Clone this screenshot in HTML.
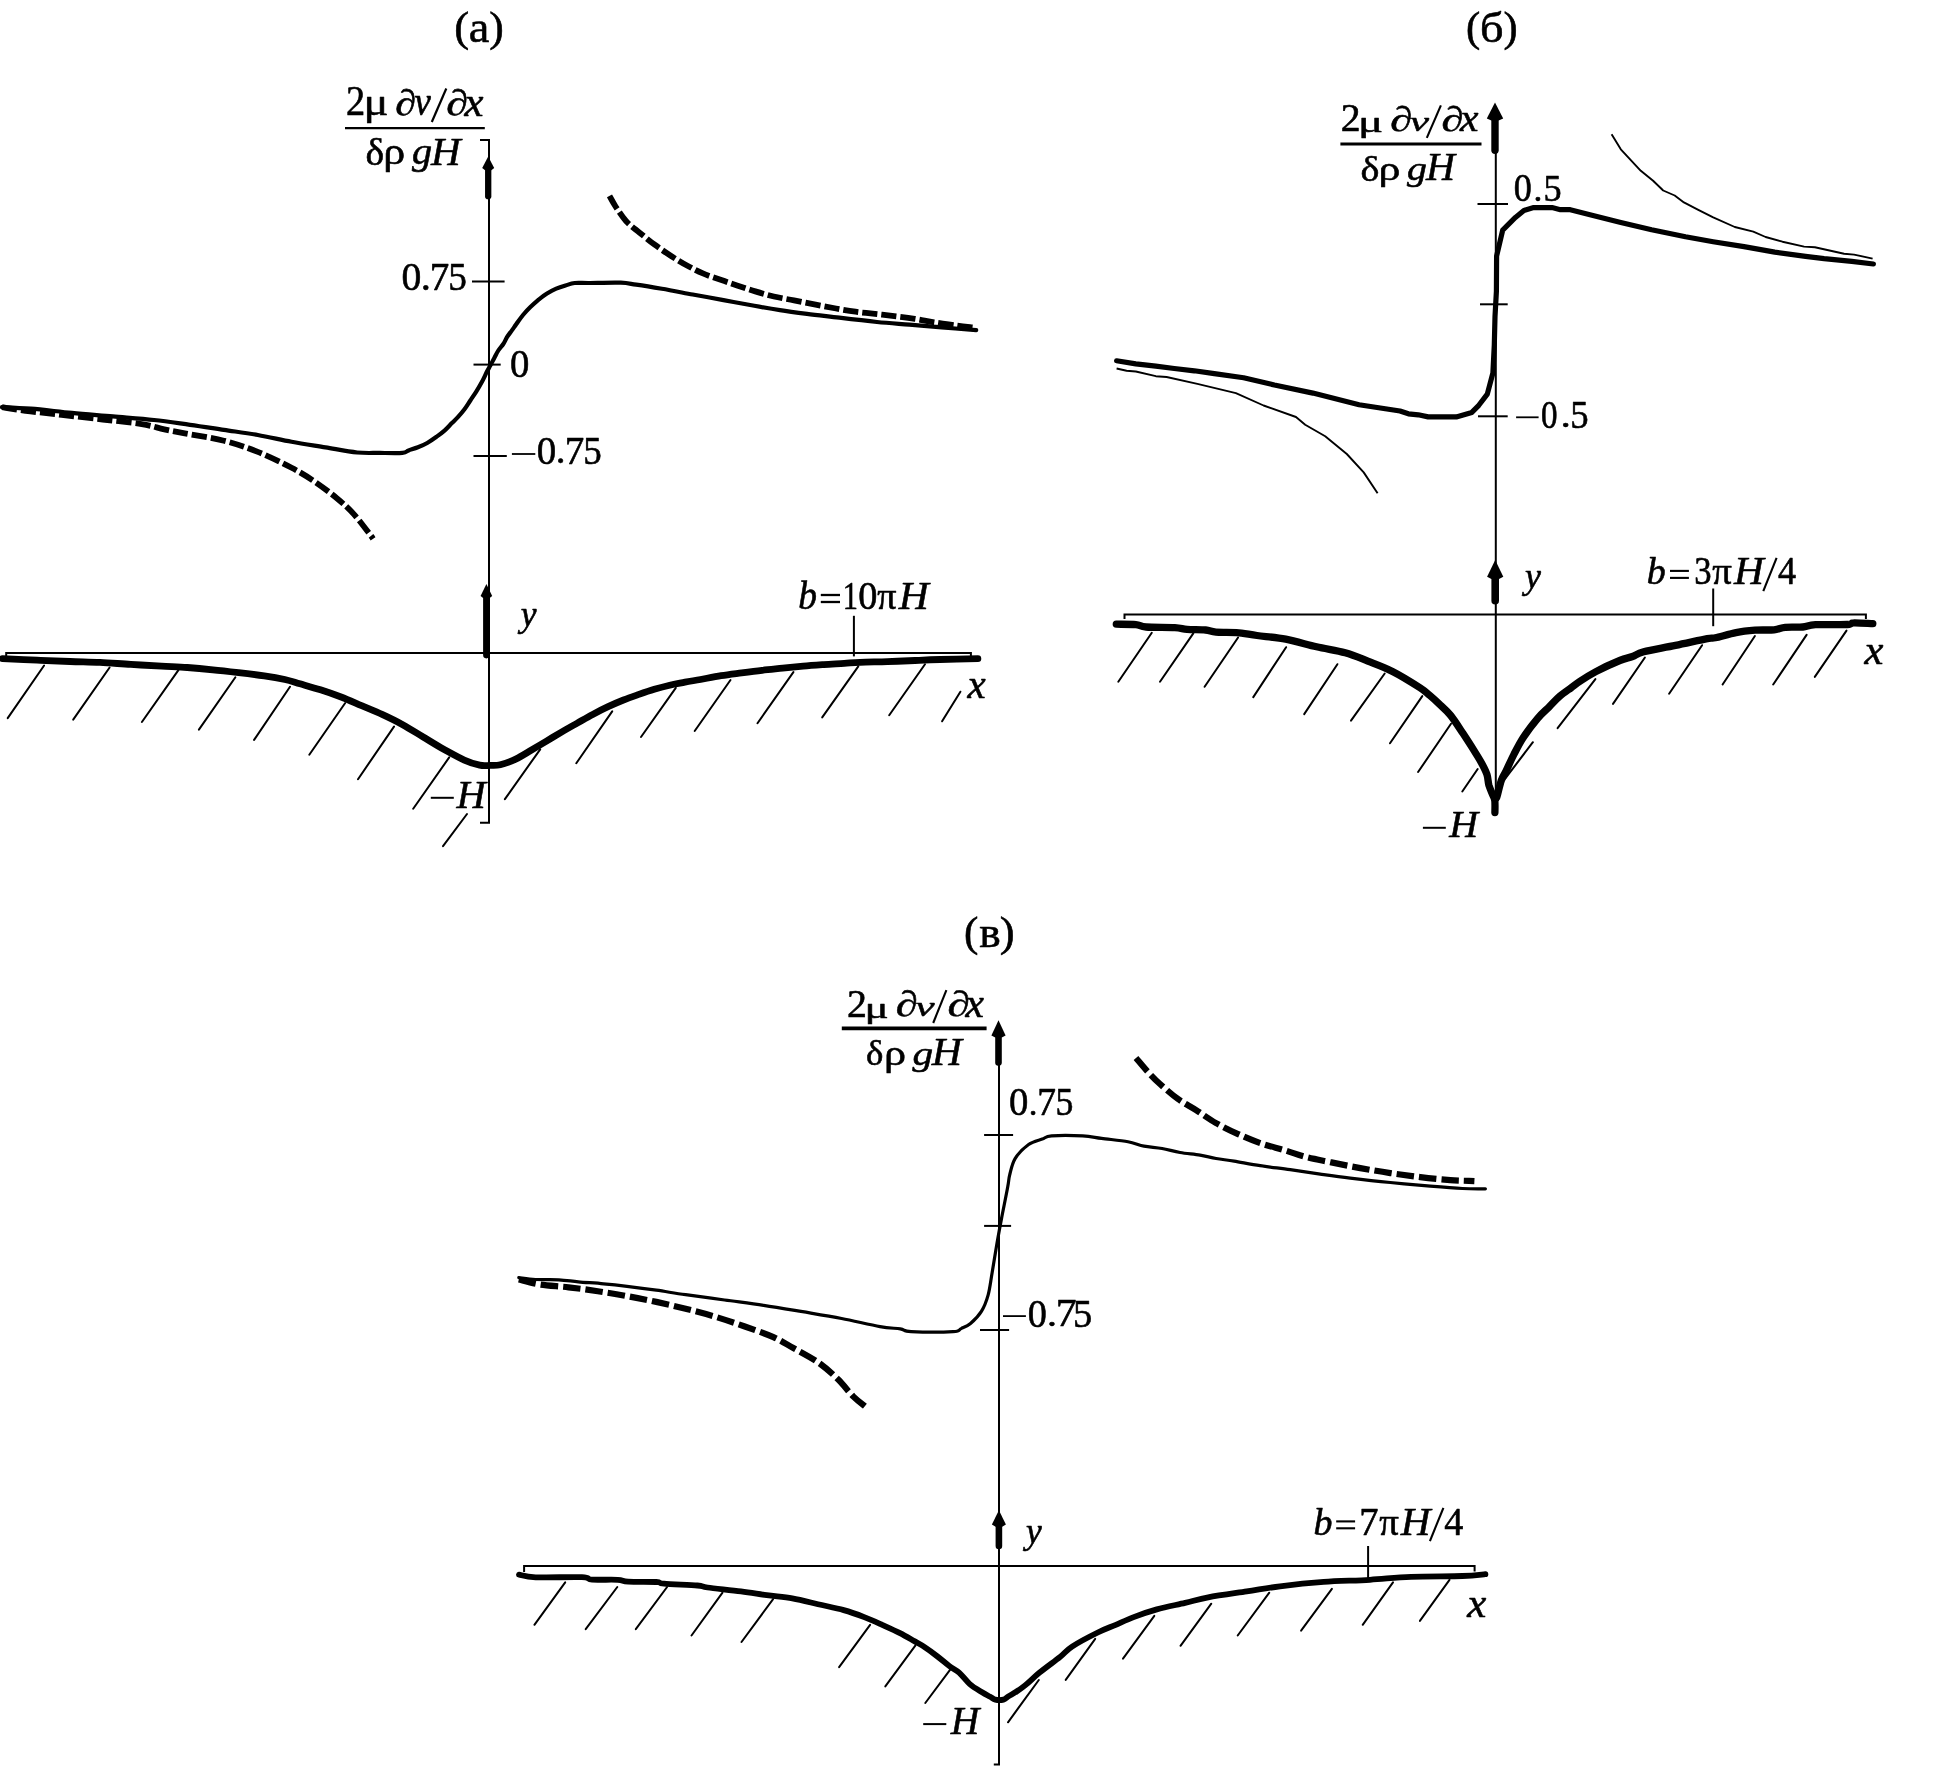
<!DOCTYPE html>
<html><head><meta charset="utf-8"><style>
html,body{margin:0;padding:0;background:#fff;}
svg{display:block;filter:grayscale(1);}
text{font-family:"Liberation Serif", serif;fill:#000;font-kerning:none;stroke:#000;stroke-width:0.6px;vector-effect:non-scaling-stroke;stroke-linejoin:round;}
</style></head><body>
<svg width="1948" height="1776" viewBox="0 0 1948 1776">
<rect width="1948" height="1776" fill="#fff"/>
<polyline points="480.0,140.0 489.0,140.0 489.0,822.8 480.0,822.8" fill="none" stroke="#000" stroke-width="2"/>
<line x1="472.0" y1="281.6" x2="504.6" y2="281.6" stroke="#000" stroke-width="2" stroke-linecap="butt"/>
<line x1="473.5" y1="364.6" x2="500.7" y2="364.6" stroke="#000" stroke-width="2" stroke-linecap="butt"/>
<line x1="473.5" y1="456.0" x2="506.8" y2="456.0" stroke="#000" stroke-width="2" stroke-linecap="butt"/>
<path d="M488.2 156.6 L494.2 168.0 L491.3 170.2 L485.1 170.2 L482.2 168.0 Z" fill="#000"/>
<line x1="488.2" y1="167.0" x2="488.2" y2="196.2" stroke="#000" stroke-width="6.3" stroke-linecap="round"/>
<path d="M486.4 584.0 L492.2 595.9 L489.7 598.1 L483.1 598.1 L480.6 595.9 Z" fill="#000"/>
<line x1="486.4" y1="594.9" x2="486.4" y2="655.1" stroke="#000" stroke-width="6.6" stroke-linecap="round"/>
<polyline points="6.2,656.5 6.2,653.0 970.9,653.0 970.9,656.5" fill="none" stroke="#000" stroke-width="2"/>
<line x1="853.9" y1="615.8" x2="853.9" y2="656.4" stroke="#000" stroke-width="2" stroke-linecap="butt"/>
<path d="M2.0 407.2 C6.8 407.4 19.1 407.8 30.8 408.7 C42.5 409.6 58.2 411.6 71.9 412.9 C85.6 414.2 99.2 415.2 112.9 416.4 C126.6 417.6 141.2 418.6 154.0 420.0 C166.8 421.4 178.3 423.2 190.0 424.8 C201.7 426.4 212.6 428.2 223.9 429.9 C235.2 431.6 246.5 433.0 257.8 435.0 C269.1 437.0 280.3 439.7 291.6 441.8 C302.9 443.9 314.6 445.6 325.5 447.4 C336.4 449.2 348.0 451.6 357.1 452.5 C366.2 453.4 372.4 452.8 380.0 452.9 C387.6 453.0 397.6 453.3 402.4 452.9 C407.2 452.5 406.0 451.3 408.6 450.4 C411.2 449.5 414.8 448.5 417.9 447.3 C421.0 446.1 424.1 444.8 427.2 443.0 C430.3 441.2 433.6 438.9 436.5 436.8 C439.4 434.7 441.9 432.9 444.5 430.6 C447.1 428.3 449.6 425.4 451.9 423.1 C454.2 420.8 456.0 419.2 458.1 416.9 C460.2 414.6 462.2 412.3 464.3 409.5 C466.4 406.7 468.4 403.3 470.5 400.2 C472.6 397.1 474.8 393.9 476.7 390.9 C478.6 387.9 480.0 385.4 481.7 382.3 C483.4 379.2 485.2 375.1 486.6 372.3 C488.0 369.5 489.0 368.0 490.3 365.6 C491.6 363.2 492.9 360.6 494.2 358.2 C495.5 355.8 496.5 353.4 498.0 351.0 C499.5 348.6 501.8 346.3 503.3 344.0 C504.8 341.7 505.6 339.5 507.0 337.2 C508.4 334.9 510.4 332.5 511.9 330.4 C513.4 328.2 514.4 326.9 516.2 324.3 C518.1 321.7 520.6 317.9 523.0 315.0 C525.4 312.1 527.9 309.4 530.4 307.0 C532.9 304.6 535.0 302.6 537.8 300.3 C540.6 298.1 543.9 295.4 547.0 293.5 C550.1 291.6 553.1 289.9 556.2 288.6 C559.3 287.3 562.4 286.4 565.5 285.5 C568.6 284.6 570.6 283.4 574.7 283.0 C578.8 282.6 582.3 283.1 590.0 283.0 C597.7 282.9 613.1 282.4 620.8 282.7 C628.5 283.0 629.4 283.7 636.2 284.7 C643.1 285.7 652.5 287.2 661.9 288.8 C671.3 290.4 682.4 292.6 692.7 294.5 C703.0 296.4 713.2 298.2 723.5 300.1 C733.8 302.0 744.9 304.1 754.3 305.8 C763.7 307.5 771.2 308.8 780.0 310.1 C788.8 311.5 797.1 312.6 807.0 313.9 C816.9 315.2 827.6 316.3 839.3 317.7 C851.0 319.1 865.3 320.8 877.0 322.0 C888.7 323.2 898.6 323.8 909.4 324.7 C920.2 325.6 930.6 326.5 941.7 327.4 C952.8 328.3 970.5 329.7 976.2 330.1" fill="none" stroke="#000" stroke-width="4.2" stroke-linecap="round" stroke-linejoin="round"/>
<path d="M609.5 195.9 C610.5 197.7 613.0 202.5 615.7 206.7 C618.5 210.9 622.1 216.7 626.0 221.0 C629.9 225.3 634.5 228.5 639.3 232.4 C644.1 236.3 649.4 240.8 654.7 244.7 C660.0 248.6 665.8 252.6 671.1 256.0 C676.4 259.4 681.2 262.3 686.5 265.2 C691.8 268.1 697.1 270.9 702.9 273.4 C708.7 275.9 715.6 278.1 721.4 280.1 C727.2 282.2 732.1 283.8 737.8 285.7 C743.4 287.6 749.3 289.6 755.3 291.4 C761.3 293.2 767.3 295.0 773.8 296.5 C780.2 298.0 787.0 299.0 794.0 300.4 C801.0 301.8 808.6 303.3 815.6 304.7 C822.6 306.1 829.4 307.3 836.0 308.5 C842.6 309.7 849.0 310.8 855.5 311.7 C862.0 312.6 868.4 313.2 874.9 313.9 C881.4 314.6 887.6 315.3 894.3 316.1 C900.9 316.9 908.1 317.8 914.8 318.8 C921.4 319.8 927.2 321.2 934.2 322.3 C941.2 323.4 950.3 324.8 956.8 325.6 C963.3 326.5 970.3 327.1 973.0 327.4" fill="none" stroke="#000" stroke-width="5.8" stroke-linecap="butt" stroke-linejoin="round" stroke-dasharray="15.2 4"/>
<path d="M2.0 407.2 C5.9 407.8 15.8 409.5 25.7 410.8 C35.6 412.1 48.8 413.4 61.6 414.9 C74.4 416.3 89.4 418.0 102.7 419.5 C116.0 421.0 131.4 422.5 141.7 424.1 C152.0 425.7 157.1 427.8 164.3 429.3 C171.5 430.9 174.9 431.5 184.8 433.4 C194.7 435.3 211.7 437.6 223.9 440.7 C236.1 443.8 246.5 447.4 257.8 451.9 C269.1 456.4 282.2 462.9 291.6 467.8 C301.0 472.7 306.7 476.2 314.2 481.3 C321.7 486.4 330.2 492.7 336.8 498.2 C343.4 503.7 348.2 507.9 353.8 514.1 C359.4 520.3 367.5 531.4 370.7 535.5 C373.9 539.6 372.6 538.3 373.0 538.9" fill="none" stroke="#000" stroke-width="5.8" stroke-linecap="butt" stroke-linejoin="round" stroke-dasharray="15.2 4"/>
<path d="M2.5 658.7 C8.2 659.0 25.8 659.7 37.0 660.2 C48.2 660.7 59.5 661.1 70.0 661.5 C80.5 661.9 89.9 661.9 100.0 662.4 C110.1 662.9 120.5 663.8 130.8 664.4 C141.1 665.0 152.2 665.7 161.6 666.2 C171.0 666.7 178.8 666.9 187.3 667.5 C195.9 668.1 204.4 668.9 212.9 669.8 C221.4 670.6 230.0 671.6 238.6 672.6 C247.2 673.6 256.6 674.8 264.3 675.9 C272.0 677.0 278.9 678.2 284.8 679.5 C290.8 680.8 294.1 682.1 300.0 683.8 C305.9 685.5 313.6 687.6 320.5 689.8 C327.4 692.0 334.2 694.4 341.1 697.0 C348.0 699.6 354.8 702.8 361.6 705.7 C368.4 708.6 375.2 711.2 382.1 714.4 C389.0 717.6 395.9 720.9 402.7 724.7 C409.5 728.5 416.4 732.9 423.2 737.0 C430.0 741.1 436.8 745.4 443.7 749.3 C450.6 753.1 458.3 757.5 464.3 760.1 C470.3 762.8 475.4 764.3 479.7 765.2 C484.0 766.1 486.6 765.5 490.0 765.4 C493.4 765.3 496.0 765.8 500.3 764.7 C504.6 763.7 510.6 761.5 515.7 759.1 C520.8 756.7 526.0 753.3 531.1 750.3 C536.2 747.3 541.4 744.2 546.5 741.1 C551.6 738.0 556.8 734.9 561.9 731.9 C567.0 728.9 572.2 726.0 577.3 723.1 C582.4 720.2 587.6 717.1 592.7 714.4 C597.8 711.7 603.0 709.1 608.1 706.7 C613.2 704.3 618.4 702.0 623.5 700.0 C628.6 698.0 633.8 696.2 638.9 694.4 C644.0 692.6 649.2 690.8 654.3 689.3 C659.4 687.8 664.6 686.4 669.7 685.2 C674.8 684.0 679.9 683.2 685.0 682.2 C690.1 681.2 694.5 680.6 700.5 679.5 C706.5 678.4 714.2 676.8 721.1 675.7 C728.0 674.6 734.8 673.8 741.6 672.9 C748.4 672.0 755.2 671.1 762.1 670.3 C769.0 669.5 775.9 668.9 782.7 668.2 C789.6 667.5 796.4 666.8 803.2 666.2 C810.0 665.6 816.9 665.1 823.7 664.6 C830.6 664.1 838.2 663.8 844.3 663.4 C850.3 663.0 852.8 662.6 860.0 662.3 C867.2 662.0 878.1 661.9 887.3 661.6 C896.5 661.3 906.2 660.9 915.0 660.5 C923.8 660.1 929.5 659.8 940.0 659.5 C950.5 659.2 971.6 658.8 977.9 658.7" fill="none" stroke="#000" stroke-width="6.8" stroke-linecap="round" stroke-linejoin="round"/>
<line x1="7.7" y1="718.1" x2="44.1" y2="665.5" stroke="#000" stroke-width="2" stroke-linecap="round"/>
<line x1="73.2" y1="719.6" x2="109.6" y2="667.5" stroke="#000" stroke-width="2" stroke-linecap="round"/>
<line x1="141.9" y1="722.0" x2="178.4" y2="670.1" stroke="#000" stroke-width="2" stroke-linecap="round"/>
<line x1="198.9" y1="729.6" x2="235.4" y2="677.3" stroke="#000" stroke-width="2" stroke-linecap="round"/>
<line x1="254.1" y1="739.9" x2="290.0" y2="686.8" stroke="#000" stroke-width="2" stroke-linecap="round"/>
<line x1="309.3" y1="754.8" x2="345.2" y2="703.0" stroke="#000" stroke-width="2" stroke-linecap="round"/>
<line x1="358.0" y1="779.2" x2="394.0" y2="726.6" stroke="#000" stroke-width="2" stroke-linecap="round"/>
<line x1="413.2" y1="808.7" x2="449.2" y2="757.4" stroke="#000" stroke-width="2" stroke-linecap="round"/>
<line x1="443.0" y1="846.1" x2="467.0" y2="814.0" stroke="#000" stroke-width="2" stroke-linecap="round"/>
<line x1="504.9" y1="799.1" x2="540.2" y2="749.3" stroke="#000" stroke-width="2" stroke-linecap="round"/>
<line x1="576.3" y1="763.2" x2="612.2" y2="711.4" stroke="#000" stroke-width="2" stroke-linecap="round"/>
<line x1="641.0" y1="737.0" x2="675.8" y2="687.8" stroke="#000" stroke-width="2" stroke-linecap="round"/>
<line x1="694.7" y1="731.0" x2="730.5" y2="680.0" stroke="#000" stroke-width="2" stroke-linecap="round"/>
<line x1="757.5" y1="723.2" x2="793.4" y2="672.1" stroke="#000" stroke-width="2" stroke-linecap="round"/>
<line x1="822.2" y1="717.4" x2="858.3" y2="666.3" stroke="#000" stroke-width="2" stroke-linecap="round"/>
<line x1="889.2" y1="715.3" x2="925.0" y2="664.2" stroke="#000" stroke-width="2" stroke-linecap="round"/>
<line x1="942.1" y1="721.3" x2="960.4" y2="691.7" stroke="#000" stroke-width="2" stroke-linecap="round"/>
<text transform="matrix(0.4478 0 0 0.4158 454.13 41.05)" font-size="100">(</text>
<text transform="matrix(0.4633 0 0 0.4509 468.87 42.46)" font-size="100">a</text>
<text transform="matrix(0.4361 0 0 0.4158 489.19 41.05)" font-size="100">)</text>
<text transform="matrix(0.3842 0 0 0.4123 346.01 115.40)" font-size="100">2</text>
<text transform="matrix(0.4661 0 0 0.3716 363.52 114.75)" font-size="100">μ</text>
<text transform="matrix(0.4215 0 0 0.3622 395.20 115.32)" font-size="100">∂</text>
<text transform="matrix(0.3673 0 0 0.3947 414.60 115.41)" font-size="100" font-style="italic">v</text>
<line x1="431.8" y1="122.0" x2="446.3" y2="88.5" stroke="#000" stroke-width="2.2" stroke-linecap="butt"/>
<text transform="matrix(0.4406 0 0 0.3622 446.34 115.32)" font-size="100">∂</text>
<text transform="matrix(0.4279 0 0 0.3987 464.52 115.60)" font-size="100" font-style="italic">x</text>
<line x1="345.0" y1="128.1" x2="484.8" y2="128.1" stroke="#000" stroke-width="2.2" stroke-linecap="butt"/>
<text transform="matrix(0.3965 0 0 0.3811 365.51 164.73)" font-size="100">δ</text>
<text transform="matrix(0.4390 0 0 0.3724 383.37 163.67)" font-size="100">ρ</text>
<text transform="matrix(0.4019 0 0 0.3716 411.98 163.69)" font-size="100" font-style="italic">g</text>
<text transform="matrix(0.4101 0 0 0.4062 430.94 164.70)" font-size="100" font-style="italic">H</text>
<text transform="matrix(0.3964 0 0 0.4060 401.59 289.90)" font-size="100">0</text>
<text transform="matrix(0.4062 0 0 0.4062 420.82 289.92)" font-size="100">.</text>
<text transform="matrix(0.3899 0 0 0.4032 429.73 290.00)" font-size="100">7</text>
<text transform="matrix(0.3724 0 0 0.4048 448.14 290.10)" font-size="100">5</text>
<text transform="matrix(0.3869 0 0 0.4016 509.93 377.21)" font-size="100">0</text>
<line x1="511.9" y1="454.0" x2="535.3" y2="454.0" stroke="#000" stroke-width="1.8" stroke-linecap="butt"/>
<text transform="matrix(0.3893 0 0 0.4031 536.82 463.51)" font-size="100">0</text>
<text transform="matrix(0.3893 0 0 0.3724 555.83 463.37)" font-size="100">.</text>
<text transform="matrix(0.3899 0 0 0.4047 564.63 463.60)" font-size="100">7</text>
<text transform="matrix(0.3699 0 0 0.4033 583.15 463.51)" font-size="100">5</text>
<text transform="matrix(0.3543 0 0 0.3675 520.66 626.07)" font-size="100" font-style="italic">y</text>
<text transform="matrix(0.3745 0 0 0.3908 798.21 608.52)" font-size="100" font-style="italic">b</text>
<line x1="820.8" y1="595.0" x2="840.0" y2="595.0" stroke="#000" stroke-width="2.3" stroke-linecap="butt"/>
<line x1="820.8" y1="602.0" x2="840.0" y2="602.0" stroke="#000" stroke-width="2.3" stroke-linecap="butt"/>
<text transform="matrix(0.3039 0 0 0.4105 842.73 608.50)" font-size="100">1</text>
<text transform="matrix(0.3822 0 0 0.4075 858.24 608.50)" font-size="100">0</text>
<text transform="matrix(0.3802 0 0 0.3776 877.28 608.53)" font-size="100">π</text>
<text transform="matrix(0.4153 0 0 0.4062 898.65 608.50)" font-size="100" font-style="italic">H</text>
<text transform="matrix(0.4100 0 0 0.3987 967.40 698.30)" font-size="100" font-style="italic">x</text>
<line x1="430.8" y1="797.8" x2="453.8" y2="797.8" stroke="#000" stroke-width="2" stroke-linecap="butt"/>
<text transform="matrix(0.4050 0 0 0.4032 456.54 807.60)" font-size="100" font-style="italic">H</text>
<line x1="1495.8" y1="118.0" x2="1495.8" y2="813.0" stroke="#000" stroke-width="2" stroke-linecap="butt"/>
<line x1="1477.5" y1="204.0" x2="1508.0" y2="204.0" stroke="#000" stroke-width="2" stroke-linecap="butt"/>
<line x1="1480.0" y1="304.3" x2="1507.7" y2="304.3" stroke="#000" stroke-width="2" stroke-linecap="butt"/>
<line x1="1478.0" y1="416.3" x2="1507.7" y2="416.3" stroke="#000" stroke-width="2" stroke-linecap="butt"/>
<path d="M1495.0 102.4 L1503.2 118.4 L1498.7 120.6 L1491.3 120.6 L1486.8 118.4 Z" fill="#000"/>
<line x1="1495.0" y1="117.4" x2="1495.0" y2="150.3" stroke="#000" stroke-width="7.4" stroke-linecap="round"/>
<path d="M1495.2 560.1 L1503.3 576.7 L1499.0 578.9 L1491.4 578.9 L1487.1 576.7 Z" fill="#000"/>
<line x1="1495.2" y1="575.7" x2="1495.2" y2="600.8" stroke="#000" stroke-width="7.6" stroke-linecap="round"/>
<polyline points="1124.5,619.0 1124.5,614.6 1865.9,614.6 1865.9,619.0" fill="none" stroke="#000" stroke-width="2"/>
<line x1="1713.2" y1="588.5" x2="1713.2" y2="626.2" stroke="#000" stroke-width="2" stroke-linecap="butt"/>
<path d="M1116.6 360.8 L1135.8 363.9 L1155.8 366.2 L1174.3 368.5 L1194.3 370.8 L1214.3 373.6 L1243.6 377.7 L1274.4 385.0 L1312.9 393.1 L1359.1 404.7 L1400.0 411.0 L1408.4 413.8 L1418.3 414.8 L1428.1 416.9 L1456.3 416.9 L1471.8 412.4 L1478.8 405.3 L1487.3 394.1 L1492.9 373.0 L1494.3 344.8 L1495.0 316.7 L1496.4 291.3 L1496.6 256.1 L1502.7 230.1 L1515.4 217.4 L1523.9 210.4 L1533.7 207.6 L1552.0 207.6 L1560.4 209.7 L1570.3 209.7 L1590.0 214.7 L1620.8 222.4 L1651.6 229.7 L1685.5 236.7 L1713.2 241.7 L1744.0 246.6 L1774.8 252.1 L1805.6 256.3 L1824.1 258.6 L1851.8 261.4 L1873.4 264.0" fill="none" stroke="#000" stroke-width="5.2" stroke-linecap="round" stroke-linejoin="round"/>
<path d="M1611.6 134.2 L1620.8 149.3 L1640.8 170.8 L1653.1 180.8 L1663.2 190.5 L1674.7 195.5 L1683.9 202.4 L1697.8 209.6 L1713.2 217.3 L1734.8 227.0 L1753.3 231.7 L1765.6 237.0 L1782.5 241.7 L1804.1 246.6 L1814.9 247.2 L1844.1 253.7 L1854.1 254.6 L1872.6 258.6" fill="none" stroke="#000" stroke-width="1.9" stroke-linecap="butt" stroke-linejoin="round"/>
<path d="M1116.6 368.5 L1126.6 370.8 L1135.8 371.5 L1155.8 376.2 L1166.6 377.0 L1197.4 383.9 L1235.9 393.1 L1263.6 405.5 L1296.0 417.0 L1305.2 424.7 L1325.2 436.3 L1346.8 454.0 L1363.7 472.4 L1377.6 493.2" fill="none" stroke="#000" stroke-width="1.9" stroke-linecap="butt" stroke-linejoin="round"/>
<path d="M1116.3 624.2 C1119.5 624.3 1130.8 624.1 1135.8 624.6 C1140.8 625.1 1139.6 626.5 1146.1 627.0 C1152.6 627.5 1168.0 627.2 1174.8 627.6 C1181.6 628.0 1182.0 629.0 1187.1 629.4 C1192.2 629.8 1200.8 629.5 1205.6 630.0 C1210.4 630.5 1210.8 631.8 1215.9 632.2 C1221.0 632.6 1229.6 632.1 1236.4 632.6 C1243.2 633.1 1248.8 634.4 1257.0 635.5 C1265.2 636.6 1275.8 637.3 1285.7 639.2 C1295.6 641.1 1306.6 644.5 1316.5 646.8 C1326.4 649.1 1336.7 650.4 1345.2 652.8 C1353.8 655.2 1359.9 658.0 1367.8 661.1 C1375.7 664.2 1383.8 667.0 1392.5 671.4 C1401.2 675.8 1413.8 683.7 1420.0 687.7 C1426.2 691.7 1426.4 692.6 1429.6 695.3 C1432.8 698.0 1435.6 700.5 1439.1 703.9 C1442.6 707.2 1446.6 710.4 1450.6 715.4 C1454.6 720.4 1459.3 727.9 1463.1 733.6 C1466.9 739.4 1470.4 744.8 1473.6 749.9 C1476.8 755.0 1480.0 760.1 1482.2 764.2 C1484.4 768.3 1485.9 771.2 1487.0 774.7 C1488.1 778.2 1488.0 781.9 1488.9 785.3 C1489.9 788.6 1491.7 792.3 1492.7 794.8 C1493.7 797.3 1494.4 797.5 1494.8 800.5 C1495.2 803.5 1494.9 810.5 1494.9 812.5" fill="none" stroke="#000" stroke-width="7.3" stroke-linecap="round" stroke-linejoin="round"/>
<path d="M1496.5 798.0 C1496.7 797.5 1496.7 797.7 1497.5 794.8 C1498.3 791.9 1499.9 784.5 1501.3 780.5 C1502.7 776.5 1504.0 775.2 1506.1 770.9 C1508.2 766.6 1510.9 760.2 1513.8 754.6 C1516.7 749.0 1519.3 743.5 1523.3 737.4 C1527.3 731.3 1533.4 723.4 1537.7 718.3 C1542.0 713.2 1545.5 710.5 1549.2 706.8 C1552.9 703.1 1556.0 699.5 1559.7 696.3 C1563.4 693.1 1567.8 690.2 1571.2 687.7 C1574.6 685.2 1575.9 683.9 1580.0 681.2 C1584.1 678.5 1589.3 675.1 1595.9 671.6 C1602.5 668.1 1613.7 663.0 1619.8 660.5 C1625.9 658.0 1628.5 658.0 1632.5 656.5 C1636.5 655.0 1636.5 653.6 1643.7 651.7 C1650.9 649.9 1664.9 647.6 1675.5 645.4 C1686.1 643.2 1700.7 639.9 1707.3 638.6 C1713.9 637.3 1710.5 638.8 1715.3 637.8 C1720.1 636.8 1729.4 633.9 1736.0 632.6 C1742.6 631.3 1748.7 630.7 1755.0 630.2 C1761.3 629.7 1769.0 630.3 1774.1 629.8 C1779.1 629.3 1780.5 627.9 1785.3 627.4 C1790.1 626.9 1797.8 627.5 1802.8 627.0 C1807.8 626.5 1808.1 625.1 1815.5 624.7 C1822.9 624.3 1840.9 624.8 1847.3 624.5 C1853.7 624.2 1849.5 622.9 1853.7 622.8 C1858.0 622.6 1869.6 623.5 1872.8 623.6" fill="none" stroke="#000" stroke-width="7.3" stroke-linecap="round" stroke-linejoin="round"/>
<line x1="1118.3" y1="681.7" x2="1151.8" y2="632.8" stroke="#000" stroke-width="2" stroke-linecap="round"/>
<line x1="1160.0" y1="681.7" x2="1193.3" y2="633.4" stroke="#000" stroke-width="2" stroke-linecap="round"/>
<line x1="1204.6" y1="686.8" x2="1238.1" y2="637.5" stroke="#000" stroke-width="2" stroke-linecap="round"/>
<line x1="1253.3" y1="697.1" x2="1286.1" y2="647.2" stroke="#000" stroke-width="2" stroke-linecap="round"/>
<line x1="1304.2" y1="714.1" x2="1337.4" y2="664.2" stroke="#000" stroke-width="2" stroke-linecap="round"/>
<line x1="1351.0" y1="720.7" x2="1384.7" y2="673.5" stroke="#000" stroke-width="2" stroke-linecap="round"/>
<line x1="1390.0" y1="743.3" x2="1422.3" y2="696.1" stroke="#000" stroke-width="2" stroke-linecap="round"/>
<line x1="1418.1" y1="772.0" x2="1451.0" y2="723.8" stroke="#000" stroke-width="2" stroke-linecap="round"/>
<line x1="1462.3" y1="791.5" x2="1477.7" y2="769.0" stroke="#000" stroke-width="2" stroke-linecap="round"/>
<line x1="1505.2" y1="778.6" x2="1532.9" y2="742.2" stroke="#000" stroke-width="2" stroke-linecap="round"/>
<line x1="1557.6" y1="728.2" x2="1595.4" y2="679.1" stroke="#000" stroke-width="2" stroke-linecap="round"/>
<line x1="1613.0" y1="703.9" x2="1644.9" y2="657.5" stroke="#000" stroke-width="2" stroke-linecap="round"/>
<line x1="1669.1" y1="693.7" x2="1702.1" y2="645.2" stroke="#000" stroke-width="2" stroke-linecap="round"/>
<line x1="1722.6" y1="684.5" x2="1754.9" y2="636.0" stroke="#000" stroke-width="2" stroke-linecap="round"/>
<line x1="1773.2" y1="684.5" x2="1806.6" y2="634.9" stroke="#000" stroke-width="2" stroke-linecap="round"/>
<line x1="1814.8" y1="676.9" x2="1846.5" y2="630.6" stroke="#000" stroke-width="2" stroke-linecap="round"/>
<text transform="matrix(0.4283 0 0 0.4158 1466.02 41.05)" font-size="100">(</text>
<text transform="matrix(0.4625 0 0 0.4203 1479.93 42.49)" font-size="100">б</text>
<text transform="matrix(0.4244 0 0 0.4158 1503.43 41.05)" font-size="100">)</text>
<text transform="matrix(0.3966 0 0 0.3987 1340.76 131.00)" font-size="100">2</text>
<text transform="matrix(0.4685 0 0 0.2987 1358.10 132.21)" font-size="100">μ</text>
<text transform="matrix(0.4453 0 0 0.3500 1390.22 130.54)" font-size="100">∂</text>
<text transform="matrix(0.4347 0 0 0.2667 1409.81 130.74)" font-size="100" font-style="italic">v</text>
<line x1="1426.8" y1="137.9" x2="1440.9" y2="105.3" stroke="#000" stroke-width="2.1" stroke-linecap="butt"/>
<text transform="matrix(0.4453 0 0 0.3500 1441.52 130.54)" font-size="100">∂</text>
<text transform="matrix(0.4167 0 0 0.3704 1460.11 131.00)" font-size="100" font-style="italic">x</text>
<line x1="1340.4" y1="143.9" x2="1481.5" y2="143.9" stroke="#000" stroke-width="3.0" stroke-linecap="butt"/>
<text transform="matrix(0.4015 0 0 0.3627 1360.39 180.55)" font-size="100">δ</text>
<text transform="matrix(0.4390 0 0 0.3460 1378.47 180.43)" font-size="100">ρ</text>
<text transform="matrix(0.3977 0 0 0.3452 1406.88 180.45)" font-size="100" font-style="italic">g</text>
<text transform="matrix(0.4011 0 0 0.4032 1426.03 180.20)" font-size="100" font-style="italic">H</text>
<text transform="matrix(0.3610 0 0 0.3912 1513.63 200.62)" font-size="100">0</text>
<text transform="matrix(0.3554 0 0 0.3385 1533.46 200.52)" font-size="100">.</text>
<text transform="matrix(0.3624 0 0 0.3867 1543.39 200.62)" font-size="100">5</text>
<line x1="1516.1" y1="417.3" x2="1538.6" y2="417.3" stroke="#000" stroke-width="1.8" stroke-linecap="butt"/>
<text transform="matrix(0.3303 0 0 0.3972 1540.94 427.51)" font-size="100">0</text>
<text transform="matrix(0.4147 0 0 0.3385 1560.57 427.42)" font-size="100">.</text>
<text transform="matrix(0.3674 0 0 0.3927 1570.27 427.52)" font-size="100">5</text>
<text transform="matrix(0.3581 0 0 0.3645 1524.89 587.93)" font-size="100" font-style="italic">y</text>
<text transform="matrix(0.3791 0 0 0.3852 1646.79 584.12)" font-size="100" font-style="italic">b</text>
<line x1="1670.0" y1="570.9" x2="1688.9" y2="570.9" stroke="#000" stroke-width="2.1" stroke-linecap="butt"/>
<line x1="1670.0" y1="577.9" x2="1688.9" y2="577.9" stroke="#000" stroke-width="2.1" stroke-linecap="butt"/>
<text transform="matrix(0.3462 0 0 0.4033 1694.24 584.11)" font-size="100">3</text>
<text transform="matrix(0.3886 0 0 0.3776 1712.17 584.13)" font-size="100">π</text>
<text transform="matrix(0.4127 0 0 0.4017 1734.04 584.10)" font-size="100" font-style="italic">H</text>
<line x1="1763.3" y1="591.1" x2="1776.6" y2="557.8" stroke="#000" stroke-width="2.1" stroke-linecap="butt"/>
<text transform="matrix(0.3614 0 0 0.3996 1778.09 583.70)" font-size="100">4</text>
<text transform="matrix(0.4256 0 0 0.3987 1864.62 664.40)" font-size="100" font-style="italic">x</text>
<line x1="1422.9" y1="827.8" x2="1445.8" y2="827.8" stroke="#000" stroke-width="2" stroke-linecap="butt"/>
<text transform="matrix(0.3998 0 0 0.3864 1449.13 836.90)" font-size="100" font-style="italic">H</text>
<polyline points="999.0,1035.0 999.0,1764.6 993.8,1764.6" fill="none" stroke="#000" stroke-width="2"/>
<line x1="984.1" y1="1135.0" x2="1013.1" y2="1135.0" stroke="#000" stroke-width="2" stroke-linecap="butt"/>
<line x1="984.1" y1="1225.9" x2="1011.1" y2="1225.9" stroke="#000" stroke-width="2" stroke-linecap="butt"/>
<line x1="980.0" y1="1330.0" x2="1009.1" y2="1330.0" stroke="#000" stroke-width="2" stroke-linecap="butt"/>
<path d="M998.5 1020.2 L1005.6 1035.4 L1001.8 1037.6 L995.2 1037.6 L991.4 1035.4 Z" fill="#000"/>
<line x1="998.5" y1="1034.4" x2="998.5" y2="1062.6" stroke="#000" stroke-width="6.6" stroke-linecap="round"/>
<path d="M998.9 1510.3 L1005.9 1524.6 L1002.2 1526.8 L995.6 1526.8 L991.9 1524.6 Z" fill="#000"/>
<line x1="998.9" y1="1523.6" x2="998.9" y2="1546.0" stroke="#000" stroke-width="6.6" stroke-linecap="round"/>
<polyline points="524.1,1572.1 524.1,1566.0 1474.6,1566.0 1474.6,1571.6" fill="none" stroke="#000" stroke-width="2"/>
<line x1="1368.1" y1="1546.0" x2="1368.1" y2="1578.6" stroke="#000" stroke-width="2" stroke-linecap="butt"/>
<path d="M518.8 1277.6 C521.6 1277.9 528.7 1279.1 535.4 1279.5 C542.1 1279.9 551.6 1279.4 558.8 1279.8 C565.9 1280.2 570.8 1281.1 578.3 1281.8 C585.8 1282.5 595.5 1283.0 603.6 1283.8 C611.7 1284.5 618.2 1285.2 627.0 1286.3 C635.8 1287.4 646.5 1288.8 656.3 1290.2 C666.1 1291.6 674.2 1293.1 685.6 1294.7 C697.0 1296.3 711.6 1298.2 724.6 1300.0 C737.6 1301.8 750.6 1303.3 763.6 1305.3 C776.6 1307.2 789.6 1309.5 802.6 1311.7 C815.6 1313.9 828.7 1316.0 841.6 1318.5 C854.5 1321.0 870.2 1324.9 880.0 1326.6 C889.8 1328.3 895.1 1328.1 900.3 1328.9 C905.5 1329.7 902.3 1331.1 911.1 1331.6 C919.9 1332.0 944.7 1332.1 953.0 1331.6 C961.3 1331.1 958.2 1329.9 961.1 1328.6 C964.0 1327.2 967.1 1326.4 970.5 1323.5 C973.9 1320.6 978.5 1316.1 981.4 1311.4 C984.3 1306.7 986.3 1301.6 988.1 1295.1 C989.9 1288.6 990.6 1281.4 992.2 1272.2 C993.8 1263.0 996.0 1248.7 997.6 1239.7 C999.2 1230.7 999.9 1226.9 1001.6 1218.1 C1003.3 1209.3 1006.4 1194.2 1007.7 1187.0 C1009.1 1179.8 1008.5 1179.6 1009.7 1174.9 C1010.9 1170.2 1012.0 1163.7 1015.1 1158.6 C1018.2 1153.5 1024.1 1147.8 1028.6 1144.5 C1033.1 1141.2 1038.4 1140.5 1042.2 1139.1 C1046.0 1137.7 1044.8 1136.4 1051.6 1135.9 C1058.3 1135.4 1074.4 1135.5 1082.7 1135.9 C1091.0 1136.3 1094.0 1137.4 1101.6 1138.4 C1109.1 1139.4 1120.9 1140.4 1128.0 1141.7 C1135.1 1143.0 1138.3 1145.0 1144.0 1146.1 C1149.7 1147.2 1156.1 1147.4 1162.1 1148.5 C1168.1 1149.6 1173.8 1151.4 1180.1 1152.5 C1186.4 1153.6 1194.1 1154.1 1200.1 1155.1 C1206.1 1156.1 1210.4 1157.5 1216.1 1158.5 C1221.8 1159.5 1226.8 1159.9 1234.1 1161.1 C1241.4 1162.3 1250.8 1164.3 1260.2 1165.7 C1269.6 1167.1 1280.2 1168.3 1290.2 1169.7 C1300.2 1171.1 1310.2 1172.7 1320.2 1174.1 C1330.2 1175.5 1338.5 1176.7 1350.2 1178.1 C1361.9 1179.5 1377.0 1181.2 1390.3 1182.5 C1403.6 1183.8 1418.3 1185.1 1430.3 1186.1 C1442.3 1187.1 1453.2 1188.0 1462.4 1188.5 C1471.6 1189.0 1481.6 1188.8 1485.4 1188.8" fill="none" stroke="#000" stroke-width="3.2" stroke-linecap="round" stroke-linejoin="round"/>
<path d="M518.8 1279.5 C522.2 1280.3 531.0 1283.1 539.3 1284.4 C547.6 1285.7 558.8 1286.2 568.5 1287.3 C578.2 1288.4 588.0 1289.7 597.8 1291.2 C607.5 1292.7 617.2 1294.3 627.0 1296.1 C636.8 1297.9 646.5 1299.8 656.3 1301.9 C666.1 1304.0 675.9 1306.3 685.6 1308.8 C695.4 1311.2 705.0 1313.7 714.8 1316.6 C724.5 1319.5 734.3 1322.9 744.1 1326.3 C753.9 1329.7 765.3 1333.5 773.4 1337.1 C781.5 1340.7 785.4 1343.6 792.9 1347.8 C800.4 1352.0 810.7 1357.2 818.2 1362.4 C825.7 1367.6 831.8 1373.3 837.7 1379.0 C843.6 1384.7 848.8 1392.0 853.4 1396.6 C858.0 1401.1 863.1 1404.7 865.1 1406.3" fill="none" stroke="#000" stroke-width="6.2" stroke-linecap="butt" stroke-linejoin="round" stroke-dasharray="17.5 5"/>
<path d="M1136.0 1058.0 C1138.0 1060.3 1144.0 1067.7 1148.0 1072.0 C1152.0 1076.3 1155.0 1079.5 1160.0 1084.0 C1165.0 1088.5 1172.1 1094.8 1178.1 1099.1 C1184.1 1103.4 1189.8 1106.1 1196.1 1110.1 C1202.4 1114.1 1209.1 1119.1 1216.1 1123.1 C1223.1 1127.1 1230.8 1130.8 1238.1 1134.1 C1245.4 1137.4 1252.5 1140.4 1260.2 1143.1 C1267.9 1145.8 1276.5 1147.8 1284.2 1150.1 C1291.9 1152.4 1298.5 1155.1 1306.2 1157.1 C1313.9 1159.1 1321.2 1160.3 1330.2 1162.1 C1339.2 1163.9 1350.3 1166.3 1360.3 1168.1 C1370.3 1169.9 1380.3 1171.6 1390.3 1173.1 C1400.3 1174.6 1410.3 1175.9 1420.3 1177.1 C1430.3 1178.3 1441.3 1179.4 1450.3 1180.1 C1459.3 1180.8 1470.4 1180.9 1474.4 1181.1" fill="none" stroke="#000" stroke-width="6.2" stroke-linecap="butt" stroke-linejoin="round" stroke-dasharray="17.5 5"/>
<path d="M519.0 1574.7 C521.8 1575.1 525.2 1576.9 535.7 1577.3 C546.2 1577.7 572.5 1576.8 581.9 1577.2 C591.3 1577.6 586.1 1579.2 592.1 1579.6 C598.1 1580.0 611.8 1579.5 617.8 1579.8 C623.8 1580.1 621.7 1581.2 628.1 1581.6 C634.5 1582.0 650.3 1581.7 656.3 1582.0 C662.3 1582.3 657.1 1583.1 664.0 1583.7 C670.9 1584.3 690.1 1584.9 697.4 1585.5 C704.7 1586.1 700.3 1586.5 707.6 1587.5 C714.9 1588.5 731.1 1590.1 741.0 1591.4 C750.9 1592.7 758.2 1594.0 766.7 1595.2 C775.2 1596.4 783.8 1596.9 792.3 1598.4 C800.8 1599.9 809.4 1602.2 818.0 1604.2 C826.6 1606.2 836.0 1607.9 843.7 1610.1 C851.4 1612.2 857.8 1614.6 864.2 1617.1 C870.6 1619.5 876.2 1622.1 882.2 1624.8 C888.2 1627.5 894.6 1630.3 900.0 1633.1 C905.4 1635.9 910.7 1639.1 914.8 1641.4 C918.9 1643.7 920.9 1644.6 924.6 1647.1 C928.3 1649.5 932.9 1652.9 937.0 1656.1 C941.1 1659.2 945.6 1663.2 949.3 1666.0 C953.0 1668.8 955.7 1669.6 959.1 1672.6 C962.5 1675.6 966.0 1680.8 969.8 1684.1 C973.6 1687.4 978.7 1690.2 982.1 1692.3 C985.5 1694.4 988.1 1695.6 990.3 1696.8 C992.5 1698.0 993.1 1699.2 995.3 1699.7 C997.5 1700.2 1001.3 1700.2 1003.5 1699.7 C1005.7 1699.2 1006.2 1697.8 1008.4 1696.4 C1010.6 1695.0 1013.7 1693.4 1016.6 1691.5 C1019.5 1689.6 1021.9 1688.1 1025.7 1684.9 C1029.5 1681.8 1033.9 1677.2 1039.6 1672.6 C1045.3 1667.9 1054.6 1661.3 1060.0 1657.0 C1065.4 1652.7 1065.8 1650.7 1072.1 1646.6 C1078.4 1642.5 1090.5 1636.1 1097.8 1632.5 C1105.1 1628.9 1109.8 1627.4 1115.8 1624.8 C1121.8 1622.2 1126.9 1619.7 1133.7 1617.1 C1140.5 1614.5 1148.2 1611.8 1156.8 1609.4 C1165.4 1607.0 1176.5 1604.9 1185.1 1602.9 C1193.7 1600.9 1197.9 1599.2 1208.2 1597.3 C1218.5 1595.4 1234.7 1593.2 1246.7 1591.4 C1258.7 1589.6 1267.2 1587.9 1280.0 1586.3 C1292.8 1584.7 1308.7 1583.0 1323.7 1581.9 C1338.7 1580.8 1355.4 1580.7 1369.9 1579.8 C1384.5 1578.9 1395.6 1577.4 1411.0 1576.8 C1426.4 1576.2 1449.9 1576.4 1462.3 1576.0 C1474.7 1575.6 1481.6 1574.5 1485.4 1574.2" fill="none" stroke="#000" stroke-width="5.8" stroke-linecap="round" stroke-linejoin="round"/>
<line x1="534.4" y1="1624.8" x2="565.2" y2="1582.4" stroke="#000" stroke-width="2" stroke-linecap="round"/>
<line x1="585.7" y1="1629.1" x2="617.3" y2="1587.0" stroke="#000" stroke-width="2" stroke-linecap="round"/>
<line x1="635.8" y1="1629.1" x2="667.1" y2="1587.0" stroke="#000" stroke-width="2" stroke-linecap="round"/>
<line x1="691.5" y1="1635.5" x2="722.5" y2="1592.7" stroke="#000" stroke-width="2" stroke-linecap="round"/>
<line x1="741.5" y1="1642.0" x2="773.1" y2="1599.1" stroke="#000" stroke-width="2" stroke-linecap="round"/>
<line x1="839.1" y1="1667.1" x2="870.1" y2="1624.8" stroke="#000" stroke-width="2" stroke-linecap="round"/>
<line x1="885.3" y1="1686.4" x2="915.5" y2="1645.3" stroke="#000" stroke-width="2" stroke-linecap="round"/>
<line x1="925.3" y1="1703.0" x2="950.2" y2="1669.7" stroke="#000" stroke-width="2" stroke-linecap="round"/>
<line x1="1008.0" y1="1722.3" x2="1038.8" y2="1680.0" stroke="#000" stroke-width="2" stroke-linecap="round"/>
<line x1="1065.7" y1="1679.9" x2="1095.2" y2="1638.9" stroke="#000" stroke-width="2" stroke-linecap="round"/>
<line x1="1123.0" y1="1658.6" x2="1154.3" y2="1615.8" stroke="#000" stroke-width="2" stroke-linecap="round"/>
<line x1="1180.5" y1="1645.8" x2="1211.3" y2="1603.7" stroke="#000" stroke-width="2" stroke-linecap="round"/>
<line x1="1237.7" y1="1635.5" x2="1269.3" y2="1592.7" stroke="#000" stroke-width="2" stroke-linecap="round"/>
<line x1="1301.1" y1="1630.7" x2="1331.9" y2="1588.8" stroke="#000" stroke-width="2" stroke-linecap="round"/>
<line x1="1362.7" y1="1624.8" x2="1393.0" y2="1582.4" stroke="#000" stroke-width="2" stroke-linecap="round"/>
<line x1="1419.9" y1="1620.9" x2="1449.5" y2="1579.8" stroke="#000" stroke-width="2" stroke-linecap="round"/>
<text transform="matrix(0.4322 0 0 0.4147 964.10 946.07)" font-size="100">(</text>
<text transform="matrix(0.4548 0 0 0.4379 979.18 947.30)" font-size="100">в</text>
<text transform="matrix(0.4478 0 0 0.4147 999.66 946.07)" font-size="100">)</text>
<text transform="matrix(0.3991 0 0 0.4078 846.95 1016.70)" font-size="100">2</text>
<text transform="matrix(0.4516 0 0 0.2898 864.44 1017.50)" font-size="100">μ</text>
<text transform="matrix(0.4453 0 0 0.3581 895.72 1016.23)" font-size="100">∂</text>
<text transform="matrix(0.4347 0 0 0.2667 915.31 1016.44)" font-size="100" font-style="italic">v</text>
<line x1="933.2" y1="1023.0" x2="946.4" y2="990.1" stroke="#000" stroke-width="2.1" stroke-linecap="butt"/>
<text transform="matrix(0.4525 0 0 0.3581 947.40 1016.23)" font-size="100">∂</text>
<text transform="matrix(0.4167 0 0 0.4074 965.61 1016.70)" font-size="100" font-style="italic">x</text>
<line x1="841.8" y1="1028.3" x2="986.6" y2="1028.3" stroke="#000" stroke-width="3.8" stroke-linecap="butt"/>
<text transform="matrix(0.3687 0 0 0.3613 866.01 1064.85)" font-size="100">δ</text>
<text transform="matrix(0.4416 0 0 0.3562 883.95 1065.32)" font-size="100">ρ</text>
<text transform="matrix(0.4126 0 0 0.3452 912.48 1064.85)" font-size="100" font-style="italic">g</text>
<text transform="matrix(0.4178 0 0 0.4017 931.65 1065.20)" font-size="100" font-style="italic">H</text>
<text transform="matrix(0.3869 0 0 0.4046 1009.03 1114.70)" font-size="100">0</text>
<text transform="matrix(0.3470 0 0 0.3470 1028.71 1114.61)" font-size="100">.</text>
<text transform="matrix(0.3751 0 0 0.4047 1037.33 1114.70)" font-size="100">7</text>
<text transform="matrix(0.3575 0 0 0.4048 1055.62 1114.70)" font-size="100">5</text>
<line x1="1003.0" y1="1316.1" x2="1025.9" y2="1316.1" stroke="#000" stroke-width="1.8" stroke-linecap="butt"/>
<text transform="matrix(0.3822 0 0 0.4105 1027.84 1326.50)" font-size="100">0</text>
<text transform="matrix(0.3978 0 0 0.3385 1046.98 1326.42)" font-size="100">.</text>
<text transform="matrix(0.4170 0 0 0.3925 1055.65 1326.20)" font-size="100">7</text>
<text transform="matrix(0.3848 0 0 0.3973 1073.06 1326.51)" font-size="100">5</text>
<text transform="matrix(0.3543 0 0 0.3645 1026.06 1542.83)" font-size="100" font-style="italic">y</text>
<text transform="matrix(0.3791 0 0 0.3852 1313.49 1534.52)" font-size="100" font-style="italic">b</text>
<line x1="1336.2" y1="1521.4" x2="1355.1" y2="1521.4" stroke="#000" stroke-width="2.1" stroke-linecap="butt"/>
<line x1="1336.2" y1="1528.3" x2="1355.1" y2="1528.3" stroke="#000" stroke-width="2.1" stroke-linecap="butt"/>
<text transform="matrix(0.3849 0 0 0.4093 1359.16 1534.60)" font-size="100">7</text>
<text transform="matrix(0.3886 0 0 0.3776 1379.17 1534.53)" font-size="100">π</text>
<text transform="matrix(0.4114 0 0 0.4093 1400.74 1534.60)" font-size="100" font-style="italic">H</text>
<line x1="1429.9" y1="1541.1" x2="1443.4" y2="1507.8" stroke="#000" stroke-width="2.1" stroke-linecap="butt"/>
<text transform="matrix(0.3808 0 0 0.4056 1444.26 1534.50)" font-size="100">4</text>
<text transform="matrix(0.4301 0 0 0.4074 1467.33 1617.10)" font-size="100" font-style="italic">x</text>
<line x1="923.2" y1="1724.1" x2="946.3" y2="1724.1" stroke="#000" stroke-width="2" stroke-linecap="butt"/>
<text transform="matrix(0.3960 0 0 0.3910 950.63 1733.80)" font-size="100" font-style="italic">H</text>
</svg>
</body></html>
